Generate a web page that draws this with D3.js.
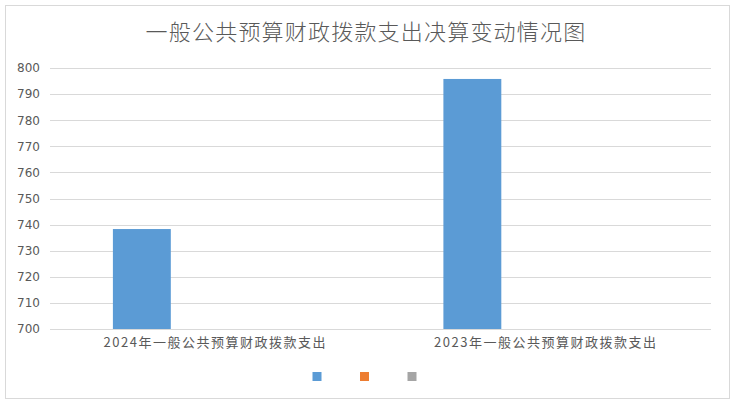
<!DOCTYPE html>
<html>
<head>
<meta charset="utf-8">
<script src="https://cdn.jsdelivr.net/npm/d3@7/dist/d3.min.js"></script>
<style>
  body { margin: 0; background: #fff; }
  svg { display: block; }
</style>
</head>
<body>
<div id="chart"></div>
<script>
// Chart data
var title      = "一般公共预算财政拨款支出决算变动情况图",
    categories = ["2024年一般公共预算财政拨款支出", "2023年一般公共预算财政拨款支出"],
    seriesA    = [738.3, 795.8],
    seriesB    = [null, null],
    seriesC    = [null, null],
    yTicks     = [700, 710, 720, 730, 740, 750, 760, 770, 780, 790, 800];

var seriesColors = ["#5b9bd5", "#ed7d31", "#a5a5a5"],
    allSeries    = [seriesA, seriesB, seriesC];

var width  = 736,
    height = 404,
    plot   = {left: 50, right: 711, top: 68, bottom: 329};

var svg = d3.select("#chart")
  .append("svg")
    .attr("width", width)
    .attr("height", height);

// outer frame
svg.append("rect")
  .attr("x", 5.5).attr("y", 5.5)
  .attr("width", 724).attr("height", 393)
  .style("fill", "#fff")
  .style("stroke", "#d9d9d9")
  .style("stroke-width", "1px");

// title
svg.append("text")
  .attr("x", 366).attr("y", 40)
  .attr("text-anchor", "middle")
  .style("font-family", "'Noto Sans CJK SC', sans-serif")
  .style("font-weight", 300)
  .style("font-size", "22px")
  .style("letter-spacing", "1.2px")
  .style("fill", "#595959")
  .text(title);

var y = d3.scaleLinear()
  .domain([700, 800])
  .range([plot.bottom, plot.top]);

var x0 = d3.scaleBand()
  .domain(categories)
  .range([plot.left, plot.right])
  .padding(0);

var x1 = d3.scaleBand()
  .domain(d3.range(allSeries.length))
  .range([0, x0.bandwidth()])
  .paddingInner(0.211)
  .paddingOuter(0.857);

// gridlines
svg.append("g")
  .selectAll("line")
  .data(yTicks)
  .enter()
  .append("line")
    .attr("x1", plot.left).attr("x2", plot.right)
    .attr("y1", function(d) { return Math.round(y(d)) + 0.5; })
    .attr("y2", function(d) { return Math.round(y(d)) + 0.5; })
    .style("stroke", "#d9d9d9")
    .style("stroke-width", "1px");

// y axis labels
var yAxis = d3.axisLeft(y).tickValues(yTicks).tickSize(0).tickPadding(0);
var gy = svg.append("g")
  .attr("transform", "translate(40,0)")
  .call(yAxis);
gy.select(".domain").remove();
gy.selectAll("text")
  .style("font-family", "'DejaVu Sans', sans-serif")
  .style("font-size", "12px")
  .style("fill", "#595959");

// bars
var groups = svg.append("g")
  .selectAll("g")
  .data(categories)
  .enter()
  .append("g")
    .attr("transform", function(d) { return "translate(" + x0(d) + ",0)"; });

groups.selectAll("rect")
  .data(function(d, i) {
    return allSeries.map(function(s, k) { return {k: k, v: s[i]}; })
      .filter(function(e) { return e.v != null; });
  })
  .enter()
  .append("rect")
    .attr("x", function(d) { return x1(d.k); })
    .attr("width", x1.bandwidth())
    .attr("y", function(d) { return y(d.v); })
    .attr("height", function(d) { return y(700) - y(d.v); })
    .style("fill", function(d) { return seriesColors[d.k]; });

// category axis
var xAxis = d3.axisBottom(x0).tickSize(0).tickPadding(0);
var gx = svg.append("g")
  .attr("transform", "translate(0," + (plot.bottom + 9) + ")")
  .call(xAxis);
gx.select(".domain").remove();
gx.selectAll("text")
  .attr("dy", "0.71em")
  .style("font-family", "'Noto Sans CJK SC', sans-serif")
  .style("font-size", "13px")
  .style("letter-spacing", "1.5px")
  .style("fill", "#595959");

// legend (no labels)
var legendX = d3.scalePoint()
  .domain(d3.range(seriesColors.length))
  .range([317, 412]);

svg.append("g")
  .selectAll("rect")
  .data(seriesColors)
  .enter()
  .append("rect")
    .attr("x", function(d, i) { return legendX(i) - 4.5; })
    .attr("y", 372)
    .attr("width", 9)
    .attr("height", 9)
    .style("fill", function(d) { return d; });
</script>
</body>
</html>
